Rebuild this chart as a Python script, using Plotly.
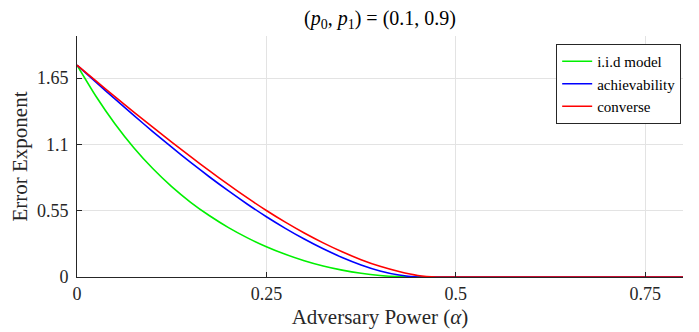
import plotly.graph_objects as go

alpha = [0.0, 0.025, 0.05, 0.075, 0.1, 0.125, 0.15, 0.175, 0.2, 0.225, 0.25,
         0.275, 0.3, 0.325, 0.35, 0.375, 0.4, 0.425, 0.45, 0.475, 0.5, 0.6, 0.7, 0.8]
iid_model = [1.758, 1.500, 1.272, 1.073, 0.900, 0.750, 0.620, 0.508, 0.410, 0.325, 0.251,
             0.188, 0.135, 0.091, 0.057, 0.031, 0.013, 0.003, 0.0, 0.0, 0.0, 0.0, 0.0, 0.0]
achievability = [1.758, 1.617, 1.478, 1.341, 1.207, 1.077, 0.951, 0.830, 0.714, 0.604, 0.500,
                 0.404, 0.315, 0.234, 0.162, 0.100, 0.050, 0.016, 0.0, 0.0, 0.0, 0.0, 0.0, 0.0]
converse = [1.758, 1.627, 1.497, 1.369, 1.243, 1.119, 0.998, 0.880, 0.766, 0.656, 0.552,
            0.455, 0.365, 0.283, 0.209, 0.144, 0.089, 0.046, 0.013, 0.0, 0.0, 0.0, 0.0, 0.0]

x_ticks = [0, 0.25, 0.5, 0.75]
x_tick_text = ["0", "0.25", "0.5", "0.75"]
y_ticks = [0, 0.55, 1.1, 1.65]
y_tick_text = ["0", "0.55", "1.1", "1.65"]

series = [("i.i.d model", iid_model, "#00f000"),
          ("achievability", achievability, "#0000ff"),
          ("converse", converse, "#ff0000")]

FONT = "Liberation Serif, Times New Roman, serif"

fig = go.Figure()
for name, vals, col in series:
    fig.add_trace(go.Scatter(x=alpha, y=vals, mode="lines", name=name,
                             line=dict(color=col, width=1.6, shape="spline", smoothing=0.6)))

fig.update_layout(
    width=691, height=324,
    margin=dict(l=69, r=16, t=28, b=55),
    paper_bgcolor="white", plot_bgcolor="white",
    font=dict(family=FONT, size=18, color="#262626"),
    title=dict(text="(<i>p</i><sub>0</sub>, <i>p</i><sub>1</sub>) = (0.1, 0.9)",
               x=0.5, xref="paper", xanchor="center", y=0.969, yref="container",
               yanchor="middle",
               font=dict(family=FONT, size=20, color="#000000")),
    legend=dict(x=0.997, y=0.967, xanchor="right", yanchor="top",
                bgcolor="white", bordercolor="#262626", borderwidth=1,
                font=dict(family=FONT, size=15, color="#000000"),
                itemwidth=30, tracegroupgap=0),
    xaxis=dict(range=[0, 0.8], tickmode="array", tickvals=x_ticks, ticktext=x_tick_text,
               showgrid=True, gridcolor="#e3e3e3", gridwidth=1,
               showline=True, linecolor="#262626", linewidth=1,
               ticks="inside", ticklen=5, tickcolor="#262626",
               zeroline=False, mirror=False, automargin=False,
               title=dict(text="Adversary Power (<i>α</i>)",
                          font=dict(family=FONT, size=21), standoff=6),
               tickfont=dict(family=FONT, size=18)),
    yaxis=dict(range=[0, 2.0], tickmode="array", tickvals=y_ticks, ticktext=y_tick_text,
               showgrid=True, gridcolor="#e3e3e3", gridwidth=1,
               showline=True, linecolor="#262626", linewidth=1,
               ticks="inside", ticklen=5, tickcolor="#262626",
               zeroline=False, mirror=False, automargin=False,
               ticklabelstandoff=4,
               title=dict(text="Error Exponent", font=dict(family=FONT, size=21), standoff=8),
               tickfont=dict(family=FONT, size=18)),
)

fig.write_html("out.html")
